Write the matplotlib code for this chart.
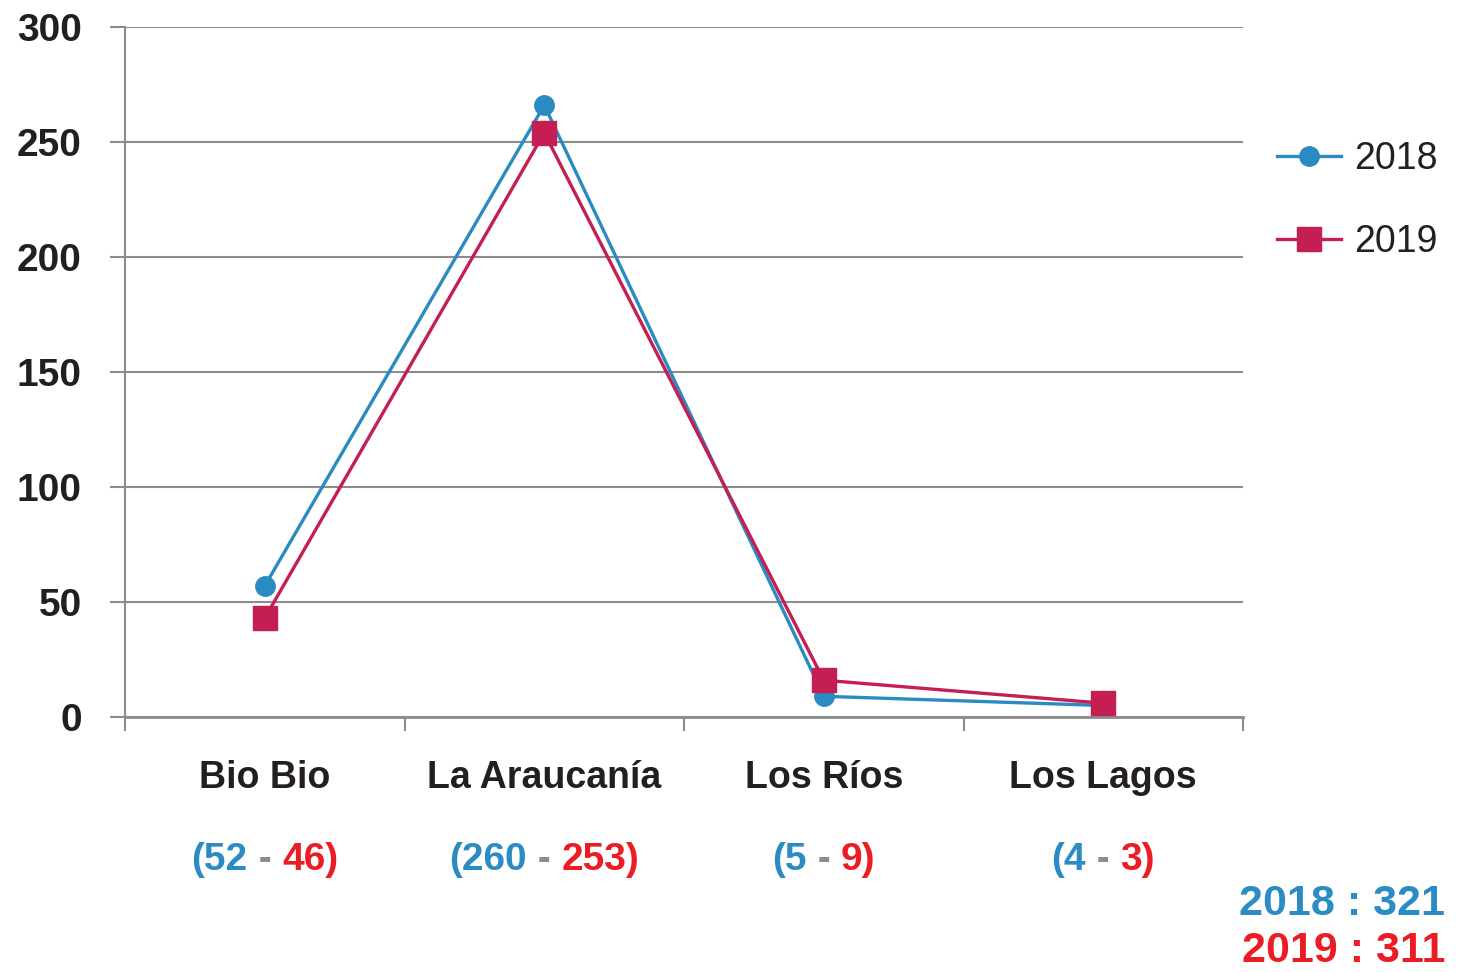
import numpy as np
from matplotlib import pyplot as plt

regions = ["Bio Bio", "La Araucanía", "Los Ríos", "Los Lagos"]
vals_2018 = [57, 266, 9, 5]
vals_2019 = [43, 254, 16, 6]
count_2018 = [52, 260, 5, 4]
count_2019 = [46, 253, 9, 3]
total_2018 = 321
total_2019 = 311
yticks = [0, 50, 100, 150, 200, 250, 300]

BLUE = "#2a8bc2"
CRIMSON = "#c41e52"
LBLUE = "#2b8cc4"
LRED = "#ec1c24"
GREY = "#8c8c8c"
DARK = "#231f20"

plt.rcParams['font.family'] = ['Liberation Sans', 'DejaVu Sans']

fig = plt.figure(figsize=(14.58, 9.72), dpi=100)
ax = fig.add_axes([125/1458, 1-717/972, (1243-125)/1458, (717-27)/972])

x = np.arange(len(regions)) + 0.5
ax.plot(x, vals_2018, '-o', color=BLUE, lw=2.4, markersize=14, label="2018", zorder=3)
ax.plot(x, vals_2019, '-s', color=CRIMSON, lw=2.4, markersize=17, label="2019", zorder=4)

ax.set_xlim(0, 4)
ax.set_ylim(0, 300)
ax.set_yticks(yticks)
ax.set_yticklabels([str(v) for v in yticks], fontsize=28, fontweight='bold', color=DARK)
ax.set_xticks(range(5))
ax.set_xticklabels([])
ax.tick_params(axis='y', length=11, width=1.5, color=GREY, pad=20)
ax.tick_params(axis='x', length=10, width=1.5, color=GREY)
ax.yaxis.grid(True, color=GREY, lw=1.5)
ax.set_axisbelow(True)
for s in ['top', 'right']:
    ax.spines[s].set_visible(False)
ax.spines['left'].set_color(GREY)
ax.spines['left'].set_linewidth(1.5)
ax.spines['bottom'].set_color(GREY)
ax.spines['bottom'].set_linewidth(2)

# category labels and counts
for xi, name, a, b in zip(x, regions, count_2018, count_2019):
    ax.annotate(name, (xi, 0), xycoords=('data', 'axes fraction'), xytext=(0, -61),
                textcoords='offset pixels', ha='center', va='center', fontsize=27,
                fontweight='bold', color=DARK)
    parts = [("(" + str(a), LBLUE), (" - ", GREY), (str(b) + ")", LRED)]
    t = ax.annotate(parts[0][0], (xi, 0), xycoords=('data', 'axes fraction'), xytext=(0, -143),
                    textcoords='offset pixels', ha='left', va='center', fontsize=28,
                    fontweight='bold', color=parts[0][1])
    texts = [t]
    for s, c in parts[1:]:
        texts.append(ax.annotate(s, xy=(1, 0.5), xycoords=texts[-1], ha='left', va='center',
                                 fontsize=28, fontweight='bold', color=c))
    fig.canvas.draw()
    r = fig.canvas.get_renderer()
    w = sum(tt.get_window_extent(r).width for tt in texts)
    t.xyann = (-w/2, -143)

fig.text(1445/1458, 1-904/972, f"2018 : {total_2018}", ha='right', va='center',
         fontsize=31, fontweight='bold', color=LBLUE)
fig.text(1445/1458, 1-951/972, f"2019 : {total_2019}", ha='right', va='center',
         fontsize=31, fontweight='bold', color=LRED)

leg = fig.legend(loc='upper left', bbox_to_anchor=(1266/1458, 1-130/972), frameon=False,
                 fontsize=27, handlelength=1.7, labelspacing=1.25, handletextpad=0.35,
                 borderaxespad=0, borderpad=0.3)
for txt in leg.get_texts():
    txt.set_color(DARK)

fig.savefig("out.png", dpi=100)
